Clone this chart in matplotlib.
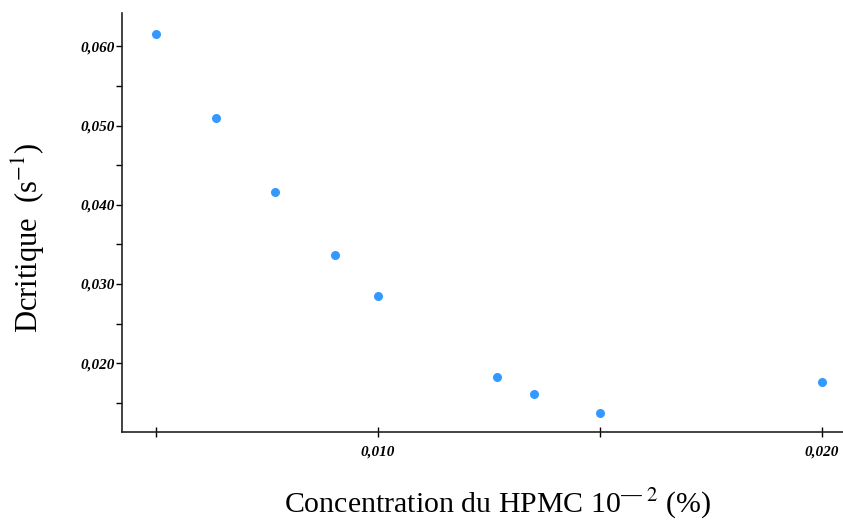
import matplotlib
matplotlib.use("Agg")
import matplotlib.pyplot as plt
from matplotlib.ticker import FixedLocator, FuncFormatter

# Data
concentration = [0.0050, 0.00635, 0.00768, 0.00903, 0.0100, 0.01268, 0.01351, 0.0150, 0.0200]
d_critique = [0.0616, 0.0510, 0.0416, 0.0336, 0.0285, 0.0182, 0.0161, 0.0137, 0.0176]

x_major = [0.010, 0.020]
x_minor = [0.005, 0.015]
y_major = [0.020, 0.030, 0.040, 0.050, 0.060]
y_minor = [0.015, 0.025, 0.035, 0.045, 0.055]

plt.rcParams['mathtext.fontset'] = 'stix'

fig = plt.figure(figsize=(8.43, 5.24), dpi=100)
ax = fig.add_axes([0.1447, 0.1756, 0.8553, 0.7994])

ax.plot(concentration, d_critique, linestyle='none', marker='o',
        markersize=6.5, color='#3399FF', markeredgewidth=0)

ax.set_xlim(0.00424, 0.02047)
ax.set_ylim(0.0113, 0.0642)

ax.spines['top'].set_visible(False)
ax.spines['right'].set_visible(False)
for s in ('left', 'bottom'):
    ax.spines[s].set_linewidth(1.2)
    ax.spines[s].set_color('#222222')

ax.xaxis.set_major_locator(FixedLocator(x_major))
ax.xaxis.set_minor_locator(FixedLocator(x_minor))
ax.yaxis.set_major_locator(FixedLocator(y_major))
ax.yaxis.set_minor_locator(FixedLocator(y_minor))

fmt = FuncFormatter(lambda v, p: f"{v:.3f}".replace('.', ','))
ax.xaxis.set_major_formatter(fmt)
ax.yaxis.set_major_formatter(fmt)

ax.tick_params(axis='x', which='both', direction='inout', length=7, width=1, pad=6)
ax.tick_params(axis='y', which='both', direction='out', length=4, width=1, pad=1)

for lab in ax.get_xticklabels() + ax.get_yticklabels():
    lab.set_family('Liberation Serif')
    lab.set_style('italic')
    lab.set_weight('bold')
    lab.set_fontsize(11)

fig.text(498 / 843, 1 - 504 / 524, "Concentration du HPMC 10$^{\u2014\\ 2}$ (%)",
         family='Liberation Serif', fontsize=21.5, ha='center', va='center')
fig.text(28 / 843, 1 - 238 / 524, "Dcritique  (s$^{-1}$)",
         family='Liberation Serif', fontsize=22, rotation=90, ha='center', va='center')

fig.savefig("out.png", dpi=100)
